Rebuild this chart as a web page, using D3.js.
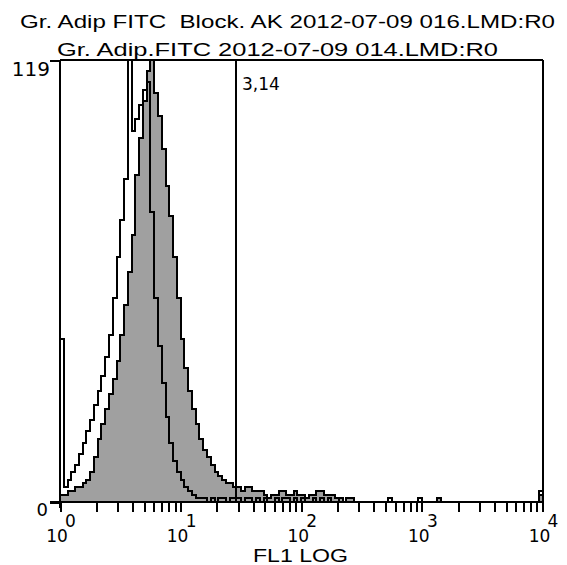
<!DOCTYPE html>
<html><head><meta charset="utf-8">
<script src="https://cdn.jsdelivr.net/npm/d3@7"></script>
<style>
body{margin:0;background:#fff}
svg{display:block}
text{font-family:"DejaVu Sans",sans-serif;fill:#000}
.lab{font-family:"Liberation Sans",Arial,sans-serif}
</style>
</head><body>
<svg id="chart" width="567" height="565"></svg>
<script>
// ---- data ----
const titleLines = ["Gr. Adip FITC  Block. AK 2012-07-09 016.LMD:R0", "Gr. Adip.FITC 2012-07-09 014.LMD:R0"];
const xAxisTitle = "FL1 LOG";
const yTickValues = [0, 119];
const xDecades = [1, 10, 100, 1000, 10000];
const xDecadeExponents = ["0", "1", "2", "3", "4"];
const markerRange = [28.8, 10000];
const markerLabel = "3,14";
// 128 channels spanning 10^0 .. 10^4 (log-spaced), counts per channel
const filledCounts = [
  2,2,3,3,4,4,5,6,8,12,17,21,25,29,33,38,
  45,53,62,72,88,98,108,116,119,110,104,95,85,77,66,55,
  44,36,30,25,21,17,14,12,10,8,7,6,5,5,4,4,
  3,4,4,3,3,3,2,1,2,2,3,3,2,2,3,2,
  2,1,2,2,3,3,2,2,2,1,1,0,1,1,0,0,
  0,0,0,0,0,0,0,0,0,0,0,0,0,0,0,0,
  0,0,0,0,1,0,0,0,0,0,0,0,0,0,0,0,
  0,0,0,0,0,0,0,0,0,0,0,0,0,0,0,2
];
const openCounts = [
  44,4,6,8,10,13,16,19,22,26,30,34,39,45,55,66,
  76,87,119,100,103,107,111,113,78,55,42,32,23,16,11,8,
  6,4,3,2,1,1,1,0,1,0,1,1,0,1,1,1,
  0,1,1,0,1,0,1,0,0,1,0,1,1,0,1,0,
  1,0,0,1,0,1,0,1,0,0,1,0,0,0,0,0,
  0,0,0,0,0,0,0,1,0,0,0,0,0,0,0,1,
  0,0,0,0,0,0,0,0,0,0,0,0,0,0,0,0,
  0,0,0,0,0,0,0,0,0,0,0,0,0,0,0,3
];

// ---- layout ----
const svg = d3.select("#chart");
const plot = {left: 60, right: 542.5, top: 60, bottom: 502};
const x = d3.scaleLog().domain([xDecades[0], xDecades[xDecades.length-1]]).range([plot.left, plot.right]);
const y = d3.scaleLinear().domain([0, yTickValues[1]]).range([plot.bottom, plot.top]);
const nBins = filledCounts.length;
const logMin = Math.log10(xDecades[0]), logMax = Math.log10(xDecades[xDecades.length-1]);
const edge = i => Math.pow(10, logMin + (logMax - logMin) * i / nBins);

function stepPath(counts, close) {
  const p = d3.path();
  p.moveTo(x(edge(0)), y(0));
  counts.forEach((c, i) => {
    const v = Math.min(c, yTickValues[1]);
    p.lineTo(x(edge(i)), y(v));
    p.lineTo(x(edge(i + 1)), y(v));
  });
  p.lineTo(x(edge(nBins)), y(0));
  if (close) p.closePath();
  return p.toString();
}

const marks = svg.append("g").attr("shape-rendering", "crispEdges");

// histograms
marks.append("path").attr("d", stepPath(filledCounts, true))
  .attr("fill", "#a0a0a0").attr("stroke", "#000").attr("stroke-width", 2).attr("stroke-linejoin", "miter");
marks.append("path").attr("d", stepPath(openCounts, false))
  .attr("fill", "none").attr("stroke", "#000").attr("stroke-width", 2).attr("stroke-linejoin", "miter");

// frame / marker lines
const lw = 2;
marks.append("line").attr("x1", x(markerRange[0])).attr("x2", x(markerRange[0]))
  .attr("y1", y(yTickValues[1])).attr("y2", y(0)).attr("stroke", "#000").attr("stroke-width", lw);
marks.append("line").attr("x1", x(markerRange[1])).attr("x2", x(markerRange[1]))
  .attr("y1", y(yTickValues[1])).attr("y2", y(0)).attr("stroke", "#000").attr("stroke-width", lw);
marks.append("line").attr("x1", plot.left).attr("x2", x(markerRange[1]))
  .attr("y1", y(yTickValues[1])).attr("y2", y(yTickValues[1])).attr("stroke", "#000").attr("stroke-width", lw);

// y axis
const yAxis = marks.append("g").attr("transform", `translate(${plot.left},0)`)
  .call(d3.axisLeft(y).tickValues(yTickValues).tickSize(10).tickPadding(2).tickSizeOuter(0));
yAxis.select(".domain").attr("stroke-width", lw).attr("d", `M0,${y(yTickValues[1])}V${y(0) + 6}`);
yAxis.selectAll(".tick line").attr("stroke-width", lw);
yAxis.selectAll(".tick text").attr("font-size", d => d === 0 ? 18 : 20).attr("font-family", "DejaVu Sans").attr("fill", "#000")
  .attr("x", d => d === 0 ? -12 : -10).attr("dy", null)
  .attr("y", d => d === 0 ? 13 : 15);

// x axis ticks
const xTicks = [];
for (let d = 0; d < xDecades.length - 1; d++) for (let k = 1; k < 10; k++) xTicks.push(xDecades[d] * k);
xTicks.push(xDecades[xDecades.length - 1]);
const xAxis = marks.append("g").attr("transform", `translate(0,${plot.bottom})`)
  .call(d3.axisBottom(x).tickValues(xTicks).tickSize(10).tickFormat("").tickSizeOuter(0));
xAxis.select(".domain").attr("stroke-width", lw).attr("d", `M${plot.left - 10},0H${x(xDecades[xDecades.length-1])}`);
xAxis.selectAll(".tick line").attr("stroke-width", 2);

// decade labels 10^n
const lab = svg.append("g");
xDecades.forEach((v, i) => {
  lab.append("text").attr("x", x(v) - 3).attr("y", 542).attr("text-anchor", "middle")
    .attr("font-size", 17).text("10");
  lab.append("text").attr("x", x(v) + 5).attr("y", 527).attr("text-anchor", "start")
    .attr("font-size", 17).text(xDecadeExponents[i]);
});

// axis title
svg.append("text").attr("class", "lab").attr("x", 253).attr("y", 562).attr("font-size", 19)
  .attr("textLength", 95).attr("lengthAdjust", "spacingAndGlyphs").style("white-space", "pre").text(xAxisTitle);

// marker label
svg.append("text").attr("x", x(markerRange[0]) + 6).attr("y", 90).attr("font-size", 17).text(markerLabel);

// titles
svg.append("text").attr("class", "lab").attr("x", 20).attr("y", 28).attr("font-size", 18.5)
  .attr("textLength", 535).attr("lengthAdjust", "spacingAndGlyphs").style("white-space", "pre").text(titleLines[0]);
svg.append("text").attr("class", "lab").attr("x", 57).attr("y", 56).attr("font-size", 18.5)
  .attr("textLength", 441).attr("lengthAdjust", "spacingAndGlyphs").style("white-space", "pre").text(titleLines[1]);
</script>
</body></html>
